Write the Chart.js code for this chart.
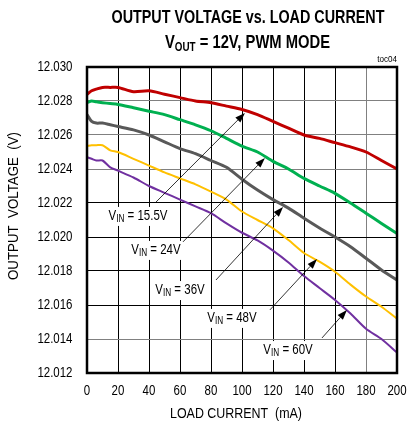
<!DOCTYPE html>
<html>
<head>
<meta charset="utf-8">
<script src="https://cdn.jsdelivr.net/npm/chart.js"></script>
<style>
  html,body{margin:0;padding:0;background:#fff;}
  #wrap{width:407px;height:427px;position:relative;}
</style>
</head>
<body>
<div id="wrap"><canvas id="c"></canvas></div>
<script>
/* ---------- DATA ---------- */
const loadCurrent = [0,3,6,10,15,20,30,40,50,60,70,80,90,100,110,120,130,140,150,160,170,180,190,200];
const vin155 = [12.0284,12.0286,12.0287,12.0288,12.0288,12.0288,12.02855,12.0286,12.0284,12.0282,12.0280,12.0279,12.0277,12.0275,12.0272,12.0268,12.0264,12.0260,12.0258,12.02555,12.0253,12.0250,12.0245,12.0240];
const vin24  = [12.0279,12.0280,12.02795,12.0279,12.02785,12.0278,12.0276,12.0274,12.0272,12.0269,12.0266,12.02625,12.0258,12.02535,12.0250,12.02445,12.0240,12.02345,12.0230,12.02257,12.0220,12.0214,12.0208,12.0202];
const vin36  = [12.0272,12.0268,12.0267,12.0267,12.0266,12.0265,12.0263,12.0260,12.0256,12.0252,12.0249,12.0245,12.0241,12.0234,12.02276,12.0222,12.0217,12.0211,12.02053,12.0200,12.01943,12.01875,12.01806,12.01747];
const vin48  = [12.02535,12.0254,12.0254,12.0254,12.0251,12.0250,12.0246,12.0242,12.0238,12.02345,12.0231,12.02267,12.0222,12.0215,12.0210,12.02051,12.01982,12.01906,12.01855,12.01796,12.0172,12.0165,12.0159,12.0152];
const vin60  = [12.0247,12.0246,12.0245,12.0245,12.0241,12.0239,12.0235,12.0230,12.0226,12.0222,12.0218,12.0214,12.0208,12.02025,12.0198,12.0192,12.0185,12.0177,12.0170,12.0163,12.0155,12.0146,12.0140,12.0132];
const xTicks = [0,20,40,60,80,100,120,140,160,180,200];
const yTicks = [12.012,12.014,12.016,12.018,12.020,12.022,12.024,12.026,12.028,12.030];

/* ---------- STYLE ---------- */
const FONT = "'Liberation Sans Narrow','Liberation Sans',Arial,sans-serif";
const SQ = 0.82; // horizontal squeeze, stands in for a narrow face
const series = [
  {name:"15.5V", data:vin155, color:"#c00000", w:3},
  {name:"24V",   data:vin24,  color:"#00b050", w:3},
  {name:"36V",   data:vin36,  color:"#595959", w:3},
  {name:"48V",   data:vin48,  color:"#ffc000", w:2},
  {name:"60V",   data:vin60,  color:"#7030a0", w:2}
];
// label callouts: label centre, arrow tail, arrow tip (data units)
const callouts = [
  {v:"15.5V", lx:32.9,  ly:12.02124, sx:43.9,  sy:12.0220,  tx:101.9, ty:12.0273},
  {v:"24V",   lx:44.5,  ly:12.01924, sx:61.9,  sy:12.01971, tx:114.8, ty:12.02465},
  {v:"36V",   lx:60,    ly:12.01688, sx:83.2,  sy:12.01747, tx:126.5, ty:12.02176},
  {v:"48V",   lx:93.5,  ly:12.01524, sx:118,   sy:12.01571, tx:148.4, ty:12.01871},
  {v:"60V",   lx:129.7, ly:12.01335, sx:151.6, sy:12.01406, tx:167.7, ty:12.01571}
];

/* ---------- TEXT HELPERS ---------- */
function sqText(ctx,text,x,y,align,sx){
  ctx.save();ctx.translate(x,y);ctx.scale(sx,1);
  ctx.textAlign=align;ctx.textBaseline="middle";ctx.fillText(text,0,0);ctx.restore();
}
function partsWidth(ctx,parts){let t=0;parts.forEach(p=>{ctx.font=p[1];t+=ctx.measureText(p[0]).width;});return t;}
function drawSub(ctx,parts,cx,cy,sx){
  const total=partsWidth(ctx,parts);
  ctx.save();ctx.translate(cx,cy);ctx.scale(sx,1);
  let x=-total/2;ctx.textAlign="left";ctx.textBaseline="middle";
  parts.forEach(p=>{ctx.font=p[1];ctx.fillText(p[0],x,p[2]||0);x+=ctx.measureText(p[0]).width;});
  ctx.restore();return total*sx;
}
function arrow(ctx,x1,y1,x2,y2){
  const a=Math.atan2(y2-y1,x2-x1),L=10,W=3.5;
  const bx=x2-L*Math.cos(a),by=y2-L*Math.sin(a);
  ctx.beginPath();ctx.moveTo(x1,y1);ctx.lineTo(bx,by);ctx.strokeStyle="#000";ctx.lineWidth=0.8;ctx.stroke();
  ctx.beginPath();ctx.moveTo(x2,y2);
  ctx.lineTo(bx+W*Math.sin(a),by-W*Math.cos(a));
  ctx.lineTo(bx-W*Math.sin(a),by+W*Math.cos(a));
  ctx.closePath();ctx.fillStyle="#000";ctx.fill();
}

/* ---------- DECORATION PLUGIN ---------- */
const decor={
  id:"decor",
  afterDraw(chart){
    const ctx=chart.ctx,xs=chart.scales.x,ys=chart.scales.y,a=chart.chartArea;
    ctx.save();
    ctx.fillStyle="#000";
    // titles
    ctx.font="bold 18px "+FONT;
    const t1="OUTPUT VOLTAGE vs. LOAD CURRENT";
    sqText(ctx,t1,248,18.5,"center",273/ctx.measureText(t1).width);
    const big="bold 18px "+FONT,small="bold 12px "+FONT;
    const p2=[["V",big,0],["OUT",small,4],[" = 12V, PWM MODE",big,0]];
    drawSub(ctx,p2,247.5,43.5,165/partsWidth(ctx,p2));
    ctx.font="9px "+FONT;
    sqText(ctx,"toc04",397,60,"right",0.9);
    // tick labels
    ctx.font="14px "+FONT;
    yTicks.forEach(v=>sqText(ctx,v.toFixed(3),72.5,ys.getPixelForValue(v),"right",SQ));
    xTicks.forEach(v=>sqText(ctx,String(v),xs.getPixelForValue(v),391,"center",SQ));
    // axis titles
    ctx.font="14px "+FONT;
    const xt="LOAD CURRENT  (mA)",yt="OUTPUT  VOLTAGE  (V)";
    sqText(ctx,xt,236,414,"center",132/ctx.measureText(xt).width);
    ctx.save();ctx.translate(14,206);ctx.rotate(-Math.PI/2);
    sqText(ctx,yt,0,0,"center",148/ctx.measureText(yt).width);ctx.restore();
    // callouts
    const f="14px "+FONT,fs="10px "+FONT;
    callouts.forEach(c=>{
      const lx=xs.getPixelForValue(c.lx),ly=ys.getPixelForValue(c.ly);
      const parts=[["V",f,0],["IN",fs,3.5],[" = "+c.v,f,0]];
      const w=partsWidth(ctx,parts)*SQ;
      ctx.fillStyle="#fff";ctx.fillRect(lx-w/2-4,ly-9,w+8,19);
      ctx.fillStyle="#000";
      drawSub(ctx,parts,lx,ly,SQ);
      arrow(ctx,xs.getPixelForValue(c.sx),ys.getPixelForValue(c.sy),xs.getPixelForValue(c.tx),ys.getPixelForValue(c.ty));
    });
    // frame
    ctx.strokeStyle="#000";ctx.lineWidth=2.5;
    ctx.strokeRect(a.left,a.top,a.right-a.left,a.bottom-a.top);
    ctx.restore();
  }
};

/* ---------- CHART ---------- */
const grayY=[12.024,12.026,12.028,12.014];
new Chart(document.getElementById("c"),{
  type:"line",
  data:{datasets:series.map(s=>({
    label:s.name,
    data:loadCurrent.map((x,i)=>({x,y:s.data[i]})),
    borderColor:s.color,borderWidth:s.w,pointRadius:0,tension:0.25,fill:false
  }))},
  options:{
    responsive:true,maintainAspectRatio:false,animation:false,
    layout:{padding:{top:67,right:10,left:0,bottom:0}},
    plugins:{legend:{display:false},tooltip:{enabled:false},title:{display:false}},
    scales:{
      x:{type:"linear",min:0,max:200,
        afterBuildTicks:s=>{s.ticks=xTicks.map(v=>({value:v}));},
        afterFit:s=>{s.height=54;},
        ticks:{display:false},
        grid:{color:c=>c.tick&&c.tick.value===180?"#808080":"#000",lineWidth:1,drawTicks:false},
        border:{color:"#000",width:2}},
      y:{min:12.012,max:12.030,
        afterBuildTicks:s=>{s.ticks=yTicks.map(v=>({value:v}));},
        afterFit:s=>{s.width=87;},
        ticks:{display:false},
        grid:{color:c=>c.tick&&grayY.some(g=>Math.abs(g-c.tick.value)<1e-6)?"#808080":"#000",lineWidth:1,drawTicks:false},
        border:{color:"#000",width:2}}
    }
  },
  plugins:[decor]
});
</script>
</body>
</html>
